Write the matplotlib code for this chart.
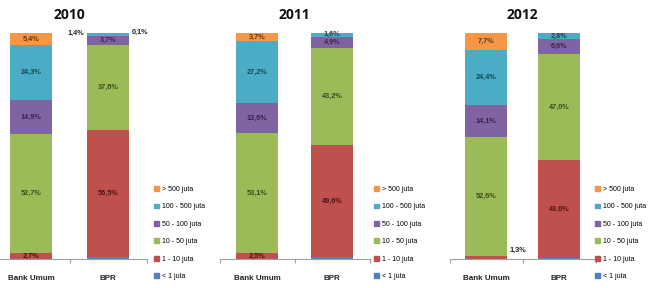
import matplotlib
matplotlib.use("Agg")
import matplotlib.pyplot as plt
from matplotlib.patches import Patch
import numpy as np

W, H = 651, 288
years = ["2010", "2011", "2012"]
categories = ["Bank Umum", "BPR"]
segments = ["< 1 juta", "1 - 10 juta", "10 - 50 juta", "50 - 100 juta", "100 - 500 juta", "> 500 juta"]

# values[year][category] in segment order
lt1 = {"2010": [0.0, 0.7], "2011": [0.0, 0.7], "2012": [0.0, 0.6]}
j1_10 = {"2010": [2.7, 56.5], "2011": [2.5, 49.6], "2012": [1.3, 43.0]}
j10_50 = {"2010": [52.7, 37.6], "2011": [53.1, 43.2], "2012": [52.6, 47.0]}
j50_100 = {"2010": [14.9, 3.7], "2011": [13.6, 4.9], "2012": [14.1, 6.6]}
j100_500 = {"2010": [24.3, 1.4], "2011": [27.2, 1.6], "2012": [24.4, 2.8]}
gt500 = {"2010": [5.4, 0.1], "2011": [3.7, 0.0], "2012": [7.7, 0.0]}
series = [lt1, j1_10, j10_50, j50_100, j100_500, gt500]

colors = ["#4F81BD", "#C0504D", "#9BBB59", "#8064A2", "#4BACC6", "#F79646"]
txtcol = ["#1f3550", "#4a1515", "#3b4d1c", "#33254a", "#1a4652", "#5e3510"]

# panel geometry in pixels: (center of cat0, spacing)
geom = {"2010": (31, 77), "2011": (257, 75), "2012": (486, 73)}
legx = {"2010": 154, "2011": 374, "2012": 595}
bar_px = 42
y_base, y_top = 259, 33

special = {("2010", 1, 4): ("right", 99.8), ("2010", 1, 5): ("left", 100.4),
           ("2012", 0, 1): ("left", 3.8)}

fam = ["Liberation Sans", "DejaVu Sans"]
fig = plt.figure(figsize=(W / 100, H / 100), dpi=100)

for yr in years:
    c0, sp = geom[yr]
    left = (c0 - 0.5 * sp) / W
    width = 2 * sp / W
    ax = fig.add_axes([left, (H - y_base) / H, width, (y_base - y_top) / H])
    x = np.arange(len(categories))
    bw = bar_px / sp
    bottom = np.zeros(len(categories))
    for si, s in enumerate(series):
        vals = np.array(s[yr])
        ax.bar(x, vals, bw, bottom=bottom, color=colors[si], label=segments[si], zorder=2)
        for ci in range(len(categories)):
            v = vals[ci]
            if si == 0 or v <= 0:
                bottom[ci] += v
                continue
            lab = f"{v:.1f}%".replace(".", ",")
            key = (yr, ci, si)
            if key in special:
                ha, yy = special[key]
                xx = x[ci] - bw / 2 - 0.03 if ha == "right" else x[ci] + bw / 2 + 0.03
                ax.text(xx, yy, lab, ha=ha, va="center", fontsize=5.3, family=fam,
                        color="#222222", fontweight="bold")
            else:
                ax.text(x[ci], bottom[ci] + v / 2, lab, ha="center", va="center",
                        fontsize=5.3, family=fam, color=txtcol[si], fontweight="bold")
            bottom[ci] += v
    ax.set_xlim(-0.5, 1.5)
    ax.set_ylim(0, 100)
    for sp_name in ["top", "right", "left"]:
        ax.spines[sp_name].set_visible(False)
    ax.spines["bottom"].set_color("#a0a0a0")
    ax.set_yticks([])
    ax.set_xticks([-0.5, 0.5, 1.5])
    ax.set_xticklabels([])
    ax.tick_params(axis="x", length=3, color="#a0a0a0")
    for ci, cat in enumerate(categories):
        ax.text(x[ci], -8.5, cat, ha="center", va="center", fontsize=5.8,
                family=fam, fontweight="bold", color="#222222")
    fig.text((c0 + 0.5 * sp) / W, 1 - 15 / H, yr, ha="center", va="center",
             fontsize=10, fontweight="bold", color="#111111", family=["Open Sans", "DejaVu Sans"])
    handles = [Patch(color=colors[i], label=segments[i]) for i in range(len(segments))][::-1]
    fig.legend(handles=handles, loc="upper left",
               bbox_to_anchor=(legx[yr] / W, 1 - 186 / H),
               bbox_transform=fig.transFigure, frameon=False,
               prop={"family": fam, "size": 5},
               handlelength=0.7, handleheight=0.7, handletextpad=0.4,
               labelspacing=1.5, borderpad=0, borderaxespad=0)

fig.savefig("out.png", dpi=100)
